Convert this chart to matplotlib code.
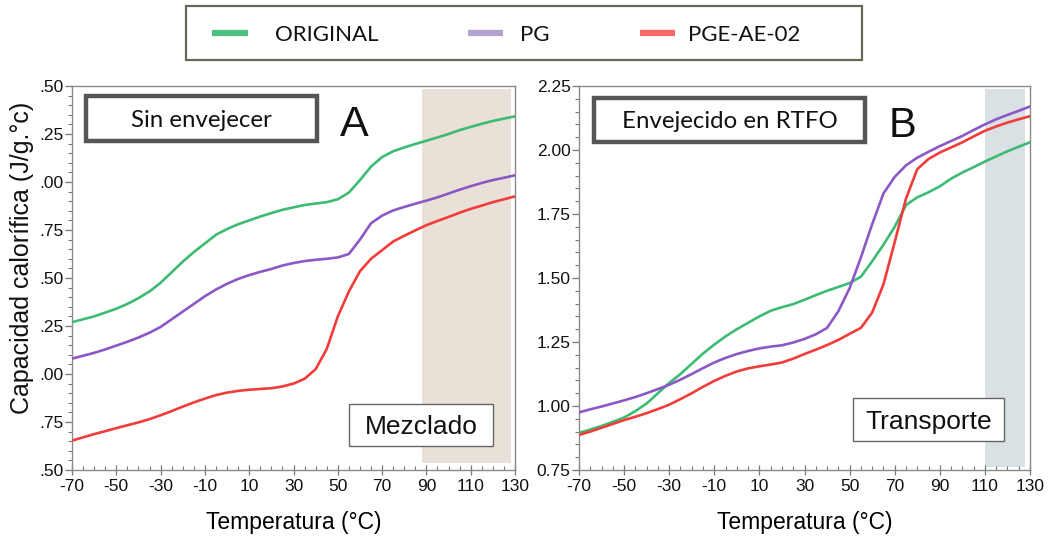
import numpy as np
import matplotlib
matplotlib.use("Agg")
import matplotlib.pyplot as plt
from matplotlib.patches import Rectangle
from matplotlib.lines import Line2D
from matplotlib.ticker import MultipleLocator, FuncFormatter

# ---------------- data ----------------
temps = list(range(-70, 131, 5))

series_names = ["ORIGINAL", "PG", "PGE-AE-02"]

# Panel A: unaged binder (mixing)
orig_a = [1.270, 1.285, 1.300, 1.320, 1.340, 1.365, 1.395, 1.430, 1.475, 1.530,
          1.585, 1.635, 1.680, 1.725, 1.755, 1.780, 1.800, 1.820, 1.838, 1.855,
          1.868, 1.880, 1.888, 1.895, 1.910, 1.945, 2.010, 2.080, 2.130, 2.160,
          2.180, 2.198, 2.215, 2.232, 2.250, 2.270, 2.287, 2.303, 2.318, 2.330,
          2.342]
pg_a = [1.080, 1.095, 1.110, 1.128, 1.148, 1.168, 1.190, 1.215, 1.245, 1.285,
        1.325, 1.365, 1.405, 1.440, 1.470, 1.495, 1.515, 1.532, 1.547, 1.565,
        1.578, 1.588, 1.595, 1.600, 1.607, 1.625, 1.700, 1.785, 1.825, 1.852,
        1.870, 1.887, 1.903, 1.920, 1.940, 1.960, 1.978, 1.995, 2.010, 2.022,
        2.035]
pge_a = [0.653, 0.670, 0.687, 0.702, 0.718, 0.733, 0.748, 0.765, 0.785, 0.807,
         0.830, 0.852, 0.872, 0.890, 0.903, 0.912, 0.918, 0.922, 0.926, 0.935,
         0.950, 0.975, 1.025, 1.130, 1.300, 1.430, 1.535, 1.600, 1.645, 1.690,
         1.720, 1.748, 1.775, 1.797, 1.818, 1.840, 1.860, 1.877, 1.895, 1.910,
         1.925]

# Panel B: RTFO-aged binder (transport)
orig_b = [0.895, 0.908, 0.922, 0.938, 0.955, 0.980, 1.010, 1.050, 1.090, 1.125,
          1.165, 1.205, 1.240, 1.272, 1.300, 1.325, 1.350, 1.372, 1.386, 1.398,
          1.415, 1.433, 1.450, 1.465, 1.480, 1.505, 1.565, 1.630, 1.700, 1.785,
          1.815, 1.835, 1.858, 1.888, 1.912, 1.933, 1.955, 1.975, 1.995, 2.013,
          2.030]
pg_b = [0.975, 0.987, 0.998, 1.010, 1.022, 1.035, 1.050, 1.066, 1.083, 1.103,
        1.125, 1.148, 1.170, 1.188, 1.203, 1.215, 1.225, 1.232, 1.237, 1.248,
        1.262, 1.280, 1.305, 1.370, 1.460, 1.580, 1.710, 1.830, 1.895, 1.940,
        1.970, 1.993, 2.015, 2.035, 2.055, 2.078, 2.100, 2.120, 2.137, 2.153,
        2.170]
pge_b = [0.887, 0.900, 0.915, 0.930, 0.945, 0.958, 0.972, 0.988, 1.005, 1.027,
         1.050, 1.075, 1.098, 1.118, 1.135, 1.147, 1.155, 1.162, 1.170, 1.185,
         1.203, 1.220, 1.238, 1.258, 1.282, 1.305, 1.365, 1.475, 1.640, 1.810,
         1.925, 1.965, 1.990, 2.010, 2.030, 2.053, 2.075, 2.092, 2.107, 2.120,
         2.132]

x_ticks = list(range(-70, 131, 20))
span_a = (88, 128)
span_b = (110, 128)

# ---------------- style ----------------
W, H = 1052, 540
line_colors = ["#3dbb73", "#8b58c6", "#f23c3c"]
legend_colors = ["#4dbf80", "#b3a1cf", "#ff6666"]
sans = ["Liberation Sans", "DejaVu Sans"]
callout = ["Lato", "DejaVu Sans"]
plt.rcParams["font.family"] = sans
plt.rcParams["axes.unicode_minus"] = False

fig = plt.figure(figsize=(W / 100, H / 100), dpi=100)


def fx(px):
    return px / W


def fy(py):
    return 1 - py / H


def panel(rect_px, ylim, ymajor, yformat):
    x0, y0, x1, y1 = rect_px
    ax = fig.add_axes([fx(x0), fy(y1), fx(x1) - fx(x0), fy(y0) - fy(y1)])
    ax.set_xlim(-70, 130)
    ax.set_ylim(*ylim)
    ax.set_xticks(x_ticks)
    ax.xaxis.set_minor_locator(MultipleLocator(5))
    ax.yaxis.set_major_locator(MultipleLocator(ymajor))
    ax.yaxis.set_minor_locator(MultipleLocator(0.05))
    ax.yaxis.set_major_formatter(FuncFormatter(yformat))
    for s in ax.spines.values():
        s.set_color("#8a8a8a")
        s.set_linewidth(1.0)
    ax.tick_params(axis="x", which="major", direction="inout", length=7,
                   width=0.9, color="#777777", labelsize=12.5, pad=3,
                   labelcolor="#111111")
    ax.tick_params(axis="x", which="minor", direction="in", length=3,
                   width=0.8, color="#777777")
    ax.tick_params(axis="y", which="major", direction="out", length=5,
                   width=0.9, color="#777777", labelsize=12.5, pad=1,
                   labelcolor="#111111")
    ax.tick_params(axis="y", which="minor", direction="out", length=3,
                   width=0.8, color="#777777")
    ax.set_xlabel("Temperatura (°C)", fontsize=16.5, labelpad=12)
    return ax


def box_text(x0, y0, x1, y1, text, size, family, lw, ec):
    fig.add_artist(Rectangle((fx(x0), fy(y1)), fx(x1) - fx(x0), fy(y0) - fy(y1),
                             transform=fig.transFigure, facecolor="white",
                             edgecolor=ec, linewidth=lw, zorder=5))
    fig.text(fx((x0 + x1) / 2), fy((y0 + y1) / 2), text, ha="center",
             va="center_baseline", fontsize=size, family=family, zorder=6,
             color="#111111")


# Panel A: y labels show only the decimal part
ax_a = panel((72, 86, 515, 470), (0.5, 2.5), 0.25,
             lambda v, p: f"{v:.2f}"[1:])
ax_a.axvspan(*span_a, ymin=0.018, ymax=0.992, color="#e9e0d7", lw=0, zorder=0)
for vals, c in zip([orig_a, pg_a, pge_a], line_colors):
    ax_a.plot(temps, vals, color=c, lw=1.9, zorder=3)

# Panel B
ax_b = panel((579, 86, 1030, 470), (0.75, 2.25), 0.25,
             lambda v, p: f"{v:.2f}")
ax_b.axvspan(*span_b, ymin=0.008, ymax=0.992, color="#d9e1e4", lw=0, zorder=0)
for vals, c in zip([orig_b, pg_b, pge_b], line_colors):
    ax_b.plot(temps, vals, color=c, lw=1.9, zorder=3)

# Shared y-axis title on the far left
fig.text(fx(22), fy(258), "Capacidad calorífica (J/g.°c)", rotation=90,
         ha="center", va="center", fontsize=18, color="#111111")

# Annotation boxes
box_text(86, 96, 317, 141, "Sin envejecer", 17.3, callout, 3.2, "#555555")
box_text(594, 98, 865, 142, "Envejecido en RTFO", 17.3, callout, 3.2, "#555555")
box_text(349, 404, 493, 446, "Mezclado", 19, sans, 1.0, "#666666")
box_text(853, 398, 1004, 441, "Transporte", 19, sans, 1.0, "#666666")
fig.text(fx(354), fy(121), "A", fontsize=31, ha="center", va="center_baseline",
         family=sans, color="#111111")
fig.text(fx(902.5), fy(122), "B", fontsize=30, ha="center", va="center_baseline",
         family=sans, color="#111111")

# Legend drawn across the top
fig.add_artist(Rectangle((fx(186), fy(60)), fx(862) - fx(186), fy(6) - fy(60),
                         transform=fig.transFigure, facecolor="white",
                         edgecolor="#6b6652", linewidth=1.6, zorder=5))
leg_lines = [(212, 248, 275), (468, 503, 520), (640, 675, 688)]
for (l0, l1, tx), name, c in zip(leg_lines, series_names, legend_colors):
    fig.add_artist(Line2D([fx(l0), fx(l1)], [fy(33), fy(33)],
                          transform=fig.transFigure, color=c, lw=4.5,
                          solid_capstyle="butt", zorder=6))
    fig.text(fx(tx), fy(33), name, ha="left", va="center_baseline",
             fontsize=16, family=callout, color="#111111", zorder=6)

fig.savefig("out.png", dpi=100)
